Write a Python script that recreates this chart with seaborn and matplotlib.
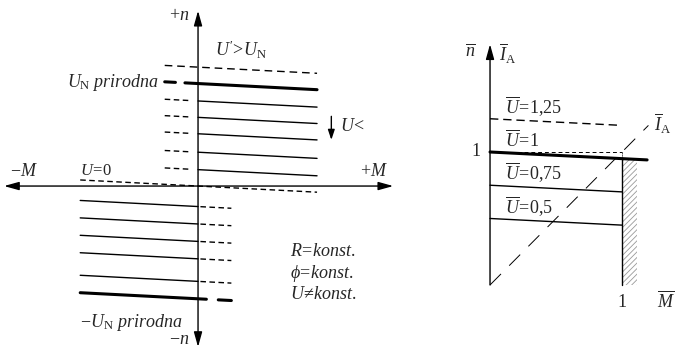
import numpy as np
import matplotlib.pyplot as plt
import seaborn as sns

# lijevi dijagram: brzina n pri M=0 za pojedine napone (n = n0 - pad*M)
n0_gore = [1.0, 0.83, 0.67, 0.51, 0.33, 0.16]       # U_N prirodna i niži naponi
n0_dolje = [-0.2, -0.37, -0.54, -0.71, -0.93, -1.1]  # negativni naponi, zadnja -U_N
n0_veci = 1.16   # U' > U_N
n0_nula = 0.0    # U = 0
pad = 0.06

# desni dijagram (relativne vrijednosti)
U_rel = ['1,25', '1', '0,75', '0,5']
n0_rel = [1.25, 1.0, 0.75, 0.5]
M_kraj = [0.98, 1.19, 1.0, 1.0]
pad_rel = 0.05
IA_M = [0.0, 1.2]
IA_n = [0.0, 1.2]

sns.set_style('white')
plt.rcParams['mathtext.fontset'] = 'custom'
plt.rcParams['mathtext.rm'] = 'Liberation Serif'
plt.rcParams['mathtext.it'] = 'Liberation Serif:italic'
plt.rcParams['mathtext.fallback'] = 'stix'
plt.rcParams['font.family'] = ['Liberation Serif', 'DejaVu Serif']
plt.rcParams['hatch.linewidth'] = 0.6

FS = 13


def crta(ax, m, n0, k, **kw):
    m = np.asarray(m, dtype=float)
    sns.lineplot(x=m, y=n0 - k * m, ax=ax, color='k', sort=False, **kw)


fig = plt.figure(figsize=(6.9, 3.48), dpi=100)
axL = fig.add_axes([0, 0, 400 / 690, 1])
axR = fig.add_axes([440 / 690, 0, 250 / 690, 1])

# ---------- lijevi dijagram ----------
ax = axL
crt = (0, (4, 2.5))
crta(ax, [-0.28, 1.0], n0_veci, pad, lw=1.0, linestyle=(0, (5.5, 3.5)))
for i, n0 in enumerate(n0_gore):
    if i == 0:
        crta(ax, [-0.28, -0.19], n0, pad, lw=2.2)
        crta(ax, [-0.11, 1.0], n0, pad, lw=2.2)
    else:
        crta(ax, [-0.28, -0.06], n0, pad, lw=1.0, linestyle=crt)
        crta(ax, [0.0, 1.0], n0, pad, lw=1.0)
crta(ax, [-0.99, 1.0], n0_nula, pad, lw=1.0, linestyle=crt)
for i, n0 in enumerate(n0_dolje):
    if i == len(n0_dolje) - 1:
        crta(ax, [-0.99, 0.07], n0, pad, lw=2.2)
        crta(ax, [0.17, 0.28], n0, pad, lw=2.2)
    else:
        crta(ax, [-0.99, 0.0], n0, pad, lw=1.0)
        crta(ax, [0.02, 0.28], n0, pad, lw=1.0, linestyle=crt)

strel = dict(color='k', lw=1.0, shrinkA=0, shrinkB=0)
ax.annotate('', xy=(-1.63, 0), xytext=(1.64, 0),
            arrowprops=dict(arrowstyle='<|-|>,head_length=0.9,head_width=0.25', **strel))
ax.annotate('', xy=(0, 1.71), xytext=(0, 0),
            arrowprops=dict(arrowstyle='-|>,head_length=0.9,head_width=0.25', **strel))
ax.annotate('', xy=(0, -1.57), xytext=(0, 0),
            arrowprops=dict(arrowstyle='-|>,head_length=0.9,head_width=0.25', **strel))
ax.annotate('', xy=(1.12, 0.45), xytext=(1.12, 0.68),
            arrowprops=dict(arrowstyle='-|>,head_length=0.6,head_width=0.2', **strel))

ax.text(-0.07, 1.66, r'$+n$', ha='right', va='center', fontsize=FS)
ax.text(0.14, 1.33, r"$U'\!>\!U_\mathrm{N}$", ha='left', va='center', fontsize=FS)
ax.text(-0.33, 1.01, r'$U_\mathrm{N}\ \mathit{prirodna}$', ha='right', va='center', fontsize=FS)
ax.text(1.19, 0.58, r'$U\!<$', ha='left', va='center', fontsize=FS)
ax.text(-1.58, 0.14, r'$-M$', ha='left', va='center', fontsize=FS)
ax.text(-0.99, 0.15, r'$U\!=\!0$', ha='left', va='center', fontsize=FS - 1)
ax.text(1.36, 0.14, r'$+M$', ha='left', va='center', fontsize=FS)
ax.text(0.77, -0.64, r'$R\!=\!\mathit{konst.}$', ha='left', va='center', fontsize=FS)
ax.text(0.77, -0.85, r'$\phi\!=\!\mathit{konst.}$', ha='left', va='center', fontsize=FS)
ax.text(0.77, -1.06, r'$U\!\neq\!\mathit{konst.}$', ha='left', va='center', fontsize=FS)
ax.text(-0.99, -1.33, r'$-U_\mathrm{N}\ \mathit{prirodna}$', ha='left', va='center', fontsize=FS)
ax.text(-0.07, -1.50, r'$-n$', ha='right', va='center', fontsize=FS)

ax.set_xlim(-1.664, 1.697)
ax.set_ylim(-1.580, 1.815)
ax.axis('off')

# ---------- desni dijagram ----------
ax = axR
crta(ax, [0, 1.0], 1.0, 0.0, lw=0.7, linestyle=(0, (4, 3)))
for u, n0, mk in zip(U_rel, n0_rel, M_kraj):
    if u == '1,25':
        crta(ax, [0, mk], n0, pad_rel, lw=1.0, linestyle=(0, (6, 3.5)))
    elif u == '1':
        crta(ax, [0, mk], n0, pad_rel, lw=2.2)
    else:
        crta(ax, [0, mk], n0, pad_rel, lw=1.0)

sns.lineplot(x=IA_M, y=IA_n, ax=ax, color='k', lw=0.7, linestyle=(0, (16, 12)))
ax.plot([1.0, 1.0], [0.0, 0.95], color='k', lw=1.0)
ax.plot([1.0, 1.0], [0.95, 1.0], color='k', lw=0.7, linestyle=(0, (1, 1)))
ax.fill_between([1.0, 1.11], 0, 0.94, facecolor='none', edgecolor='0.6',
                hatch='//////', lw=0)

ax.annotate('', xy=(1.52, 0), xytext=(0, 0),
            arrowprops=dict(arrowstyle='-|>,head_length=0.9,head_width=0.25', **strel))
ax.annotate('', xy=(0, 1.81), xytext=(0, 0),
            arrowprops=dict(arrowstyle='-|>,head_length=0.9,head_width=0.25', **strel))

ax.text(-0.15, 1.75, r'$\overline{n}$', ha='center', va='center', fontsize=FS)
ax.text(0.07, 1.74, r'$\overline{I}_\mathrm{A}$', ha='left', va='center', fontsize=FS)
for u, n0 in zip(U_rel, n0_rel):
    ax.text(0.11, n0 + 0.09, r'$\overline{U}\!=\!' + u.replace(',', '{,}') + '$',
            ha='left', va='center', fontsize=FS)
ax.text(-0.07, 1.0, '1', ha='right', va='center', fontsize=FS)
ax.text(1.0, -0.13, '1', ha='center', va='center', fontsize=FS)
ax.text(1.33, -0.12, r'$\overline{M}$', ha='center', va='center', fontsize=FS)
ax.text(1.24, 1.21, r'$\overline{I}_\mathrm{A}$', ha='left', va='center', fontsize=FS)

ax.set_xlim(-0.379, 1.515)
ax.set_ylim(-0.474, 2.143)
ax.axis('off')

fig.savefig('out.png', dpi=100)
